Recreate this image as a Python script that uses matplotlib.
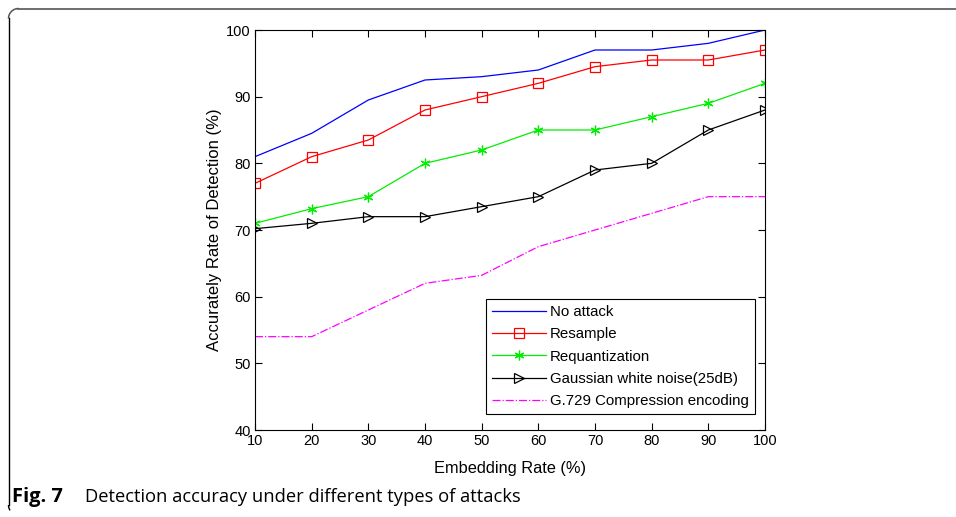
import matplotlib.pyplot as plt
from matplotlib.lines import Line2D
from matplotlib.patches import Arc

# embedding rate (%) on the x axis
rates = [10, 20, 30, 40, 50, 60, 70, 80, 90, 100]

no_attack = [81, 84.5, 89.5, 92.5, 93, 94, 97, 97, 98, 100]
resample = [77, 81, 83.5, 88, 90, 92, 94.5, 95.5, 95.5, 97]
requant = [71, 73.2, 75, 80, 82, 85, 85, 87, 89, 92]
gauss_noise = [70.2, 71, 72, 72, 73.5, 75, 79, 80, 85, 88]
g729 = [54, 54, 58, 62, 63.2, 67.5, 70, 72.5, 75, 75]

labels = ["No attack", "Resample", "Requantization",
          "Gaussian white noise(25dB)", "G.729 Compression encoding"]

plt.rcParams["font.family"] = ["Liberation Sans", "DejaVu Sans"]

fig = plt.figure(figsize=(9.56, 5.17), dpi=100)
ax = fig.add_axes([255 / 956, 1 - 430 / 517, 510 / 956, 400 / 517])

lw = 0.9
ax.plot(rates, no_attack, color="#0000ff", lw=lw, label=labels[0])
ax.plot(rates, resample, color="#ff0000", lw=lw, marker="s", ms=7,
        mfc="none", mew=0.9, label=labels[1])
ax.plot(rates, requant, color="#00ee00", lw=lw, marker=(6, 2, 0), ms=7,
        mew=0.9, label=labels[2])
ax.plot(rates, gauss_noise, color="black", lw=lw, marker=">", ms=7.5,
        mfc="none", mew=0.9, label=labels[3])
ax.plot(rates, g729, color="#ff00ff", lw=lw, ls="-.", label=labels[4])

ax.set_xlim(10, 100)
ax.set_ylim(40, 100)
ax.set_xticks(range(10, 101, 10))
ax.set_yticks(range(40, 101, 10))
ax.tick_params(direction="in", top=True, right=True, labelsize=10.5,
               length=5, width=0.8, pad=3)
for s in ax.spines.values():
    s.set_linewidth(0.8)

ax.set_xlabel("Embedding Rate (%)", fontsize=11.8, labelpad=9)
ax.set_ylabel("Accurately Rate of Detection (%)", fontsize=12, labelpad=3)

leg = ax.legend(loc="lower right", bbox_to_anchor=(0.980, 0.04),
                fancybox=False, edgecolor="black", framealpha=1,
                fontsize=10.8, handlelength=3.6, handletextpad=0.25,
                labelspacing=0.55, borderpad=0.4, borderaxespad=0)
leg.get_frame().set_linewidth(0.8)

# page frame around the figure, open on the right and bottom
gray = "#555555"
fig.add_artist(Line2D([18 / 956, 1], [1 - 8.5 / 517] * 2, color=gray, lw=1.2,
                      transform=fig.transFigure))
fig.add_artist(Line2D([8.5 / 956] * 2, [1 - 18 / 517, 1 - 505 / 517],
                      color="black", lw=1.0, transform=fig.transFigure))
fig.add_artist(Arc((18.5 / 956, 1 - 18.5 / 517), 20 / 956, 20 / 517,
                   theta1=90, theta2=180, color=gray, lw=1.1,
                   transform=fig.transFigure))
fig.add_artist(Arc((18.5 / 956, 1 - 505 / 517), 20 / 956, 20 / 517,
                   theta1=180, theta2=230, color="black", lw=1.0,
                   transform=fig.transFigure))

cap_font = ["Open Sans", "DejaVu Sans"]
fig.text(12 / 956, 1 - 497 / 517, "Fig. 7", fontsize=14.5, fontweight="bold",
         family=cap_font, va="center")
fig.text(85 / 956, 1 - 497 / 517,
         "Detection accuracy under different types of attacks",
         fontsize=13.2, family=cap_font, va="center")

fig.savefig("out.png", dpi=100)
